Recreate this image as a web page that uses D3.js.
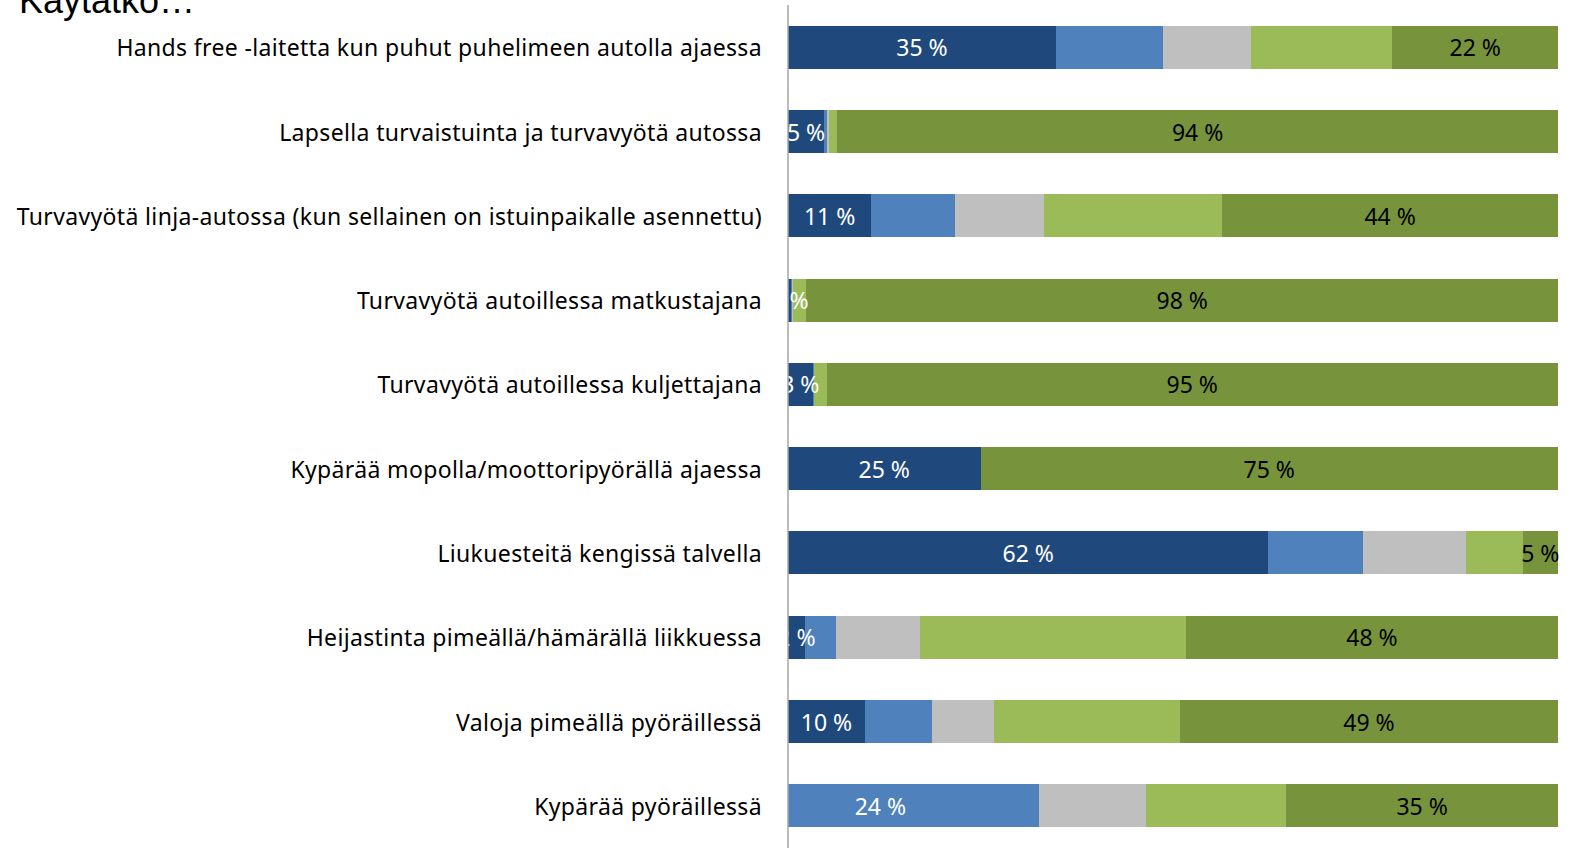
<!DOCTYPE html>
<html>
<head>
<meta charset="utf-8">
<script src="https://cdn.jsdelivr.net/npm/d3@7"></script>
<style>
  html, body { margin: 0; padding: 0; background: #fff; }
  svg { display: block; }
</style>
</head>
<body>
<div id="chart"></div>
<script>
var title = 'Käytätkö…';

var categories = [
  'Hands free -laitetta kun puhut puhelimeen autolla ajaessa',
  'Lapsella turvaistuinta ja turvavyötä autossa',
  'Turvavyötä linja-autossa (kun sellainen on istuinpaikalle asennettu)',
  'Turvavyötä autoillessa matkustajana',
  'Turvavyötä autoillessa kuljettajana',
  'Kypärää mopolla/moottoripyörällä ajaessa',
  'Liukuesteitä kengissä talvella',
  'Heijastinta pimeällä/hämärällä liikkuessa',
  'Valoja pimeällä pyöräillessä',
  'Kypärää pyöräillessä'
];

// five answer groups, percent per category (top to bottom)
var series1 = [34.8, 4.7, 10.8, 0.4, 3.2, 25.0, 62.4, 2.2, 10.0, 24.0];
var series2 = [13.9, 0.3, 10.9, 0.1, 0.2, 0.0, 12.3, 4.0, 8.7, 8.6];
var series3 = [11.4, 0.3, 11.6, 0.1, 0.0, 0.0, 13.3, 11.0, 8.0, 13.9];
var series4 = [18.4, 1.1, 23.1, 1.8, 1.6, 0.0, 7.4, 34.5, 24.2, 18.2];
var series5 = [21.5, 93.6, 43.6, 97.6, 95.0, 75.0, 4.6, 48.3, 49.1, 35.3];

var allSeries = [series1, series2, series3, series4, series5];
var colors = ['#1f497d', '#4f81bd', '#bfbfbf', '#9bbb59', '#77933c'];

var W = 1578, H = 865;
var margin = {top: 5, right: 20, bottom: 17, left: 788};
var width = 1558 - margin.left;
var height = H - margin.top - margin.bottom;
var labelFont = '23px "Noto Sans", sans-serif';

var svg = d3.select('#chart').append('svg')
    .attr('width', W)
    .attr('height', H);

// clip labels at the value axis like the original
svg.append('defs').append('clipPath')
    .attr('id', 'plotclip')
  .append('rect')
    .attr('x', 0).attr('y', -margin.top)
    .attr('width', W - margin.left).attr('height', H);

var g = svg.append('g')
    .attr('transform', 'translate(' + margin.left + ',' + margin.top + ')');

var x = d3.scaleLinear().domain([0, 100]).range([0, width]);
var y = d3.scaleBand()
    .domain(categories)
    .range([0, height])
    .paddingInner(0.49)
    .paddingOuter(0.245);

// Build stacked rows
var rows = categories.map(function (c, i) {
  var start = 0;
  return allSeries.map(function (s, k) {
    var seg = {cat: c, k: k, x0: start, x1: start + s[i], value: s[i]};
    start += s[i];
    return seg;
  });
});

// last row: first group drawn in the lighter blue in the original
function segColor(d) {
  if (d.cat === 'Kypärää pyöräillessä' && d.k === 0) { return colors[1]; }
  return colors[d.k];
}

var row = g.selectAll('.row')
    .data(rows)
    .enter().append('g')
    .attr('class', 'row');

row.selectAll('rect')
    .data(function (d) { return d.filter(function (s) { return s.value > 0; }); })
    .enter().append('rect')
    .attr('x', function (d) { return x(d.x0); })
    .attr('y', function (d) { return y(d.cat); })
    .attr('width', function (d) { return x(d.x1) - x(d.x0); })
    .attr('height', y.bandwidth())
    .attr('fill', segColor)
    .attr('shape-rendering', 'crispEdges');

// data labels on first and last group
var labels = g.append('g').attr('clip-path', 'url(#plotclip)');
rows.forEach(function (r) {
  [r[0], r[4]].forEach(function (d) {
    if (d.value <= 0) { return; }
    labels.append('text')
      .attr('x', x((d.x0 + d.x1) / 2))
      .attr('y', y(d.cat) + y.bandwidth() / 2 + 1)
      .attr('dy', '0.35em')
      .attr('text-anchor', 'middle')
      .style('font', labelFont)
      .attr('fill', d.k === 0 ? '#ffffff' : '#000000')
      .text(Math.round(d.value) + ' %');
  });
});

// category axis line
g.append('line')
    .attr('x1', 0).attr('x2', 0)
    .attr('y1', 0).attr('y2', height)
    .attr('stroke', '#a6a6a6')
    .attr('stroke-width', 1.5);

// category labels
g.append('g').selectAll('text')
    .data(categories)
    .enter().append('text')
    .attr('x', -26)
    .attr('y', function (d) { return y(d) + y.bandwidth() / 2 + 1; })
    .attr('dy', '0.35em')
    .attr('text-anchor', 'end')
    .style('font', labelFont)
    .style('letter-spacing', '0.35px')
    .attr('fill', '#000')
    .text(function (d) { return d; });

// title, partly outside the top edge
svg.append('text')
    .attr('x', 19)
    .attr('y', 13)
    .style('font', '36px "Liberation Sans", Arial, sans-serif')
    .attr('fill', '#000')
    .text(title);
</script>
</body>
</html>
